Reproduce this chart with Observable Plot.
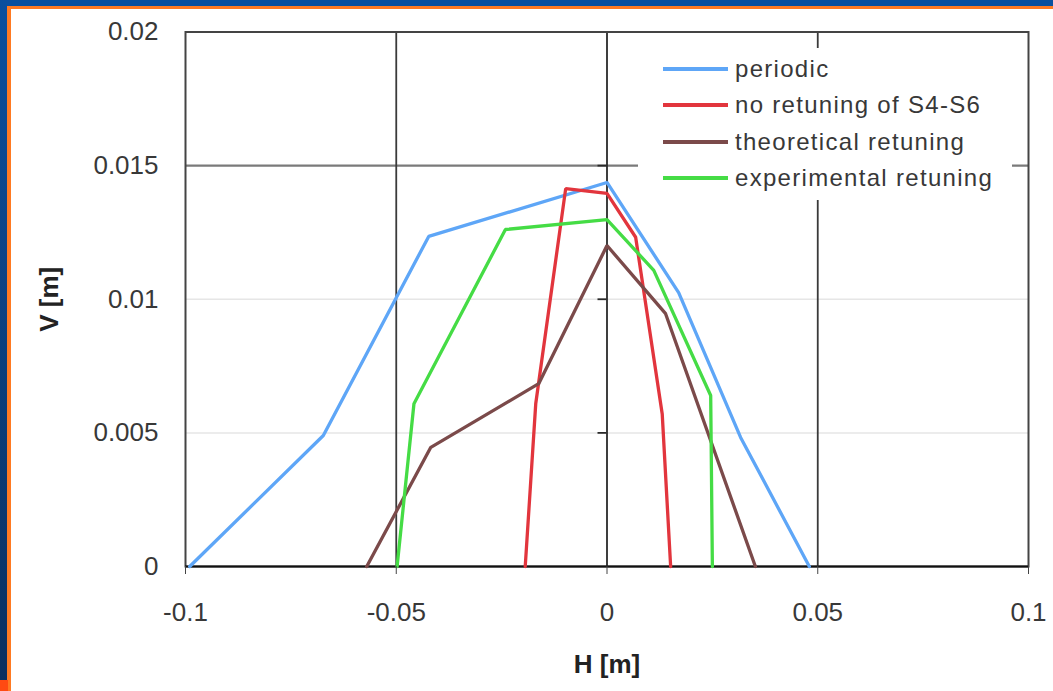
<!DOCTYPE html>
<html>
<head>
<meta charset="utf-8">
<script src="https://cdn.jsdelivr.net/npm/d3@7"></script>
<script src="https://cdn.jsdelivr.net/npm/@observablehq/plot@0.6"></script>
<style>
  html, body { margin: 0; padding: 0; background: #fff; }
  #wrap { position: relative; width: 1053px; height: 691px; overflow: hidden; background: #fff;
          font-family: "Liberation Sans", Arial, sans-serif; }
  #chart svg { display: block; }
  .band { position: absolute; }
  #legend { position: absolute; left: 638px; top: 48px; width: 374px; height: 152px; background: #fff; }
  .row { position: absolute; left: 0; height: 30px; display: flex; align-items: center; }
  .sw { width: 65px; height: 3.4px; margin-left: 25px; margin-right: 7px; }
  .lab { font-size: 24px; letter-spacing: 1.3px; color: #383838; white-space: nowrap; }
</style>
</head>
<body>
<div id="wrap">
  <div id="chart"></div>
  <div id="legend"></div>
  <div class="band" style="left:0;top:0;width:1053px;height:6px;background:#0a4f9e"></div>
  <div class="band" style="left:7px;top:6px;width:1046px;height:3px;background:#ff7a22"></div>
  <div class="band" style="left:0;top:0;width:7px;height:691px;background:linear-gradient(#0a4f9e,#0b2f5e)"></div>
  <div class="band" style="left:7px;top:6px;width:4px;height:685px;background:#ff7a22"></div>
  <div class="band" style="left:0;top:680px;width:8px;height:11px;background:#ff4a12"></div>
</div>
<script>
const seriesNames = ["periodic", "no retuning of S4-S6", "theoretical retuning", "experimental retuning"];
const seriesColors = ["#5ea6f7", "#e2353d", "#7b4a4a", "#45dc45"];

const H_periodic = [-0.099, -0.0673, -0.0423, 0, 0.0170, 0.0317, 0.048];
const V_periodic = [0, 0.0049, 0.01235, 0.01437, 0.01025, 0.00483, 0];

const H_noRetuning = [-0.0194, -0.0169, -0.0098, 0, 0.0068, 0.0131, 0.0151];
const V_noRetuning = [0, 0.0061, 0.01414, 0.01396, 0.01232, 0.00571, 0];

const H_theoretical = [-0.057, -0.0418, -0.0162, 0, 0.0139, 0.0352];
const V_theoretical = [0, 0.00446, 0.00684, 0.01201, 0.00946, 0];

const H_experimental = [-0.0498, -0.0458, -0.0241, 0, 0.0111, 0.0246, 0.025];
const V_experimental = [0, 0.00609, 0.01261, 0.01298, 0.01108, 0.0064, 0];

const xTicks = [-0.1, -0.05, 0, 0.05, 0.1];
const xTickLabels = ["-0.1", "-0.05", "0", "0.05", "0.1"];
const yTicks = [0, 0.005, 0.01, 0.015, 0.02];
const yTickLabels = ["0", "0.005", "0.01", "0.015", "0.02"];

const seriesH = [H_periodic, H_noRetuning, H_theoretical, H_experimental];
const seriesV = [V_periodic, V_noRetuning, V_theoretical, V_experimental];
const rows = [];
seriesNames.forEach((name, s) => {
  seriesH[s].forEach((h, i) => rows.push({series: name, H: h, V: seriesV[s][i]}));
});

const chart = Plot.plot({
  width: 1053,
  height: 691,
  marginLeft: 185,
  marginRight: 25,
  marginTop: 31.5,
  marginBottom: 125,
  style: {fontFamily: '"Liberation Sans", Arial, sans-serif', fontSize: "26px", color: "#383838", background: "#fff"},
  x: {domain: [-0.1, 0.1]},
  y: {domain: [0, 0.02]},
  color: {domain: seriesNames, range: seriesColors},
  marks: [
    Plot.ruleY([yTicks[1], yTicks[2]], {stroke: "#e6e6e6", strokeWidth: 1.5}),
    Plot.ruleY([yTicks[3]], {stroke: "#7a7a7a", strokeWidth: 2.2}),
    Plot.ruleX([xTicks[1], xTicks[3]], {stroke: "#3a3a3a", strokeWidth: 1.8}),
    Plot.ruleX([0], {stroke: "#2a2a2a", strokeWidth: 1.8}),
    Plot.ruleY(yTicks.slice(1, 4), {y: d => d, x1: 0, x2: 0, insetLeft: -9, stroke: "#2a2a2a", strokeWidth: 1.8}),
    Plot.frame({stroke: "#444", strokeWidth: 2}),
    Plot.ruleY([0], {stroke: "#111", strokeWidth: 2.2}),
    Plot.line(rows, {x: "H", y: "V", z: "series", stroke: "series", strokeWidth: 3.3, strokeLinejoin: "miter"}),
    Plot.axisX({ticks: xTicks, tickFormat: (d, i) => xTickLabels[i], tickSize: 8, tickPadding: 28, stroke: "#444", fill: "#383838", label: null, style: {letterSpacing: "1.5px"}}),
    Plot.axisY({ticks: yTicks, tickFormat: (d, i) => yTickLabels[i], tickSize: 0, tickPadding: 27, fill: "#383838", label: null, style: {letterSpacing: "0.8px"}}),
    Plot.text(["H [m]"], {frameAnchor: "bottom", textAnchor: "middle", dy: 106, fontWeight: "bold", fill: "#222", fontSize: 26, style: {letterSpacing: "2px"}}),
    Plot.text(["V [m]"], {frameAnchor: "left", textAnchor: "middle", dx: -136, rotate: -90, fontWeight: "bold", fill: "#222", fontSize: 26, style: {letterSpacing: "2px"}})
  ]
});
document.getElementById("chart").appendChild(chart);

const legend = document.getElementById("legend");
const rowCenters = [21, 57, 94, 130];
seriesNames.forEach((name, i) => {
  const r = document.createElement("div");
  r.className = "row";
  r.style.top = (rowCenters[i] - 15) + "px";
  r.innerHTML = `<div class="sw" style="background:${seriesColors[i]}"></div><span class="lab">${name}</span>`;
  legend.appendChild(r);
});
</script>
</body>
</html>
